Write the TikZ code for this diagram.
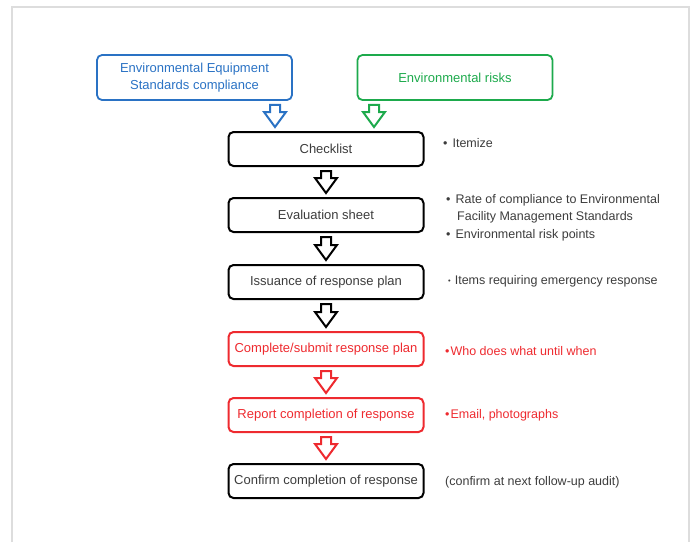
\documentclass[tikz,border=0pt]{standalone}
\usepackage{fontspec}
\setmainfont{Liberation Sans}
\usetikzlibrary{calc}
\definecolor{txtgray}{HTML}{3C3C3C}
\definecolor{myblue}{HTML}{2A72C4}
\definecolor{mygreen}{HTML}{1DAA4C}
\definecolor{myred}{HTML}{EE2A2F}
\definecolor{framegray}{HTML}{DDDDDD}
\tikzset{
  flowbox/.style={draw=black, line width=2pt, rounded corners=5pt, minimum width=195pt, minimum height=34pt, inner sep=0pt, text=txtgray, font=\fontsize{13}{16}\selectfont},
  redbox/.style={flowbox, draw=myred, text=myred},
  topbox/.style={draw, line width=1.8pt, rounded corners=5pt, minimum width=195pt, minimum height=45pt, inner sep=0pt, align=center, font=\fontsize{13}{17}\selectfont},
  note/.style={anchor=west, inner sep=0pt, text=txtgray, font=\fontsize{12.5}{17}\selectfont},
  rednote/.style={note, text=myred},
  hollow/.style={draw, line width=2pt, fill=white, line join=miter},
}
% hollow block arrow from point #1 (box edge above) to point #2 (box edge below)
\newcommand\hollowarrow[3]{%
  \draw[hollow,#3] let \p1=($(#1)+(0,-4pt)$), \p2=($(#2)+(0,4pt)$) in
    (\x1-5pt,\y1) -- (\x1+5pt,\y1) -- (\x1+5pt,\y2+15pt) -- (\x1+11pt,\y2+15pt)
    -- (\x1,\y2) -- (\x1-11pt,\y2+15pt) -- (\x1-5pt,\y2+15pt) -- cycle;}
\begin{document}
\begin{tikzpicture}[x=1pt,y=-1pt]
\useasboundingbox (0,0) rectangle (691,542);
\draw[framegray, line width=2.5pt] (12,542) -- (12,7) -- (689,7) -- (689,542);

\node[topbox, draw=myblue, text=myblue] (blue) at (194.5,77.5) {Environmental Equipment\\Standards compliance};
\node[topbox, draw=mygreen, text=mygreen] (green) at (455,77.5) {Environmental risks};

\node[flowbox] (chk) at (326,149) {Checklist};
\node[flowbox] (eval) at (326,215) {Evaluation sheet};
\node[flowbox] (iss) at (326,282) {Issuance of response plan};
\node[redbox] (comp) at (326,349) {Complete/submit response plan};
\node[redbox] (rep) at (326,415) {Report completion of response};
\node[flowbox] (conf) at (326,481) {Confirm completion of response};

\coordinate (bb) at ($(chk.north)+(-51pt,0)$);
\coordinate (bt) at (bb |- blue.south);
\coordinate (gb) at ($(chk.north)+(48pt,0)$);
\coordinate (gt) at (gb |- green.south);
\hollowarrow{bt}{bb}{draw=myblue}
\hollowarrow{gt}{gb}{draw=mygreen}
\hollowarrow{chk.south}{eval.north}{draw=black}
\hollowarrow{eval.south}{iss.north}{draw=black}
\hollowarrow{iss.south}{comp.north}{draw=black}
\hollowarrow{comp.south}{rep.north}{draw=myred}
\hollowarrow{rep.south}{conf.north}{draw=myred}

\node[note] (n1) at (443,143) {\textbullet\hspace{5pt}Itemize};
\node[note] (n2) at (446,200) {\textbullet\hspace{5pt}Rate of compliance to Environmental};
\node[note] (n3) at (457,217) {Facility Management Standards};
\node[note] (n4) at (446,235) {\textbullet\hspace{5pt}Environmental risk points};
\node[note] (n5) at (448,281) {\raisebox{0.1ex}{\scalebox{0.6}{\textbullet}}\hspace{4pt}Items requiring emergency response};
\node[rednote] (n6) at (445,351) {\textbullet\hspace{1pt}Who does what until when};
\node[rednote] (n7) at (445,415) {\textbullet\hspace{1pt}Email, photographs};
\node[note] (n8) at (445,482) {(confirm at next follow-up audit)};
\end{tikzpicture}
\end{document}
